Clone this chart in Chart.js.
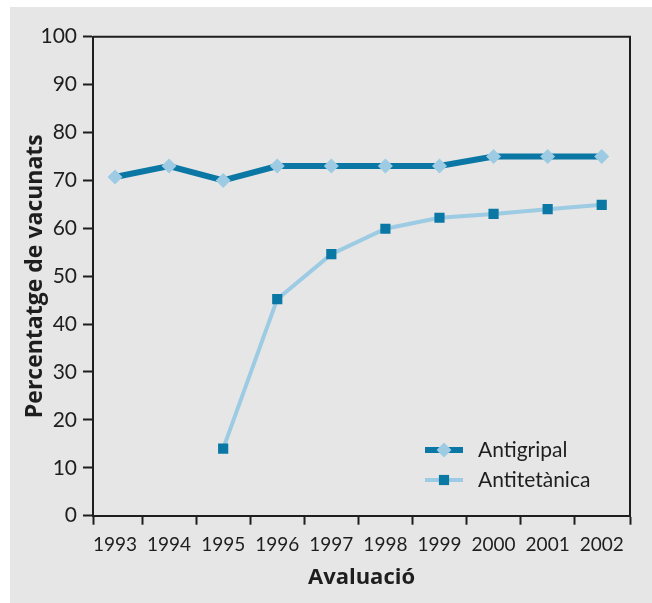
<!DOCTYPE html>
<html>
<head>
<meta charset="utf-8">
<script src="https://cdn.jsdelivr.net/npm/chart.js@4/dist/chart.umd.min.js"></script>
<style>
  html, body { margin: 0; padding: 0; background: #ffffff; }
  #wrap { position: absolute; left: 10px; top: 7px; width: 642px; height: 596px; background: #e6e6e6; }
  canvas { display: block; }
</style>
</head>
<body>
<div id="wrap"><canvas id="c" width="642" height="596"></canvas></div>
<script>
// ---- data ----
const years = ['1993', '1994', '1995', '1996', '1997', '1998', '1999', '2000', '2001', '2002'];
const antigripal = [70.7, 73, 70, 73, 73, 73, 73, 75, 75, 75];
const antitetanica = [null, null, 14, 45.2, 54.6, 59.9, 62.2, 63, 64, 64.9];
const seriesNames = ['Antigripal', 'Antitetànica'];
const yTicks = [0, 10, 20, 30, 40, 50, 60, 70, 80, 90, 100];
const axisTitles = { x: 'Avaluació', y: 'Percentatge de vacunats' };

const DARK = '#0a77a4';
const LIGHT = '#9ccbe3';
const INK = '#1e1e1e';
const FONT = 'Lato, "Open Sans", sans-serif';
const TITLE_FONT = '"Open Sans", Lato, sans-serif';

const toXY = arr => arr.map((v, i) => ({ x: i, y: v }));

const frame = {
  id: 'frame',
  beforeDatasetsDraw(chart) {
    const { ctx, chartArea: a } = chart;
    ctx.save();
    ctx.strokeStyle = INK;
    ctx.lineWidth = 2;
    ctx.beginPath();
    ctx.moveTo(a.left, a.top);
    ctx.lineTo(a.right, a.top);
    ctx.lineTo(a.right, a.bottom);
    ctx.stroke();
    ctx.restore();
  }
};

const innerLegend = {
  id: 'innerLegend',
  afterDraw(chart) {
    const { ctx } = chart;
    const x0 = 415, x1 = 453, tx = 468;
    const rows = [443, 473];
    ctx.save();
    chart.data.datasets.forEach((ds, i) => {
      const y = rows[i];
      ctx.strokeStyle = ds.borderColor;
      ctx.lineWidth = ds.borderWidth;
      ctx.beginPath();
      ctx.moveTo(x0, y);
      ctx.lineTo(x1, y);
      ctx.stroke();
      ctx.fillStyle = ds.pointBackgroundColor;
      ctx.beginPath();
      const r = ds.pointRadius;
      const cx = (x0 + x1) / 2;
      if (ds.pointStyle === 'rectRot') {
        ctx.moveTo(cx, y - r); ctx.lineTo(cx + r, y); ctx.lineTo(cx, y + r); ctx.lineTo(cx - r, y); ctx.closePath();
      } else {
        const h = r * Math.SQRT1_2;
        ctx.rect(cx - h, y - h, 2 * h, 2 * h);
      }
      ctx.fill();
      ctx.fillStyle = INK;
      ctx.font = '21px ' + FONT;
      ctx.textBaseline = 'middle';
      ctx.textAlign = 'left';
      ctx.fillText(ds.label, tx, y);
    });
    ctx.restore();
  }
};

const X_MIN = -0.407, X_MAX = 9.523;

new Chart(document.getElementById('c'), {
  type: 'line',
  data: {
    datasets: [
      {
        label: seriesNames[0],
        data: toXY(antigripal),
        borderColor: DARK,
        borderWidth: 6,
        pointStyle: 'rectRot',
        pointRadius: 7.5,
        pointBackgroundColor: LIGHT,
        pointBorderWidth: 0,
        pointBorderColor: LIGHT,
        tension: 0
      },
      {
        label: seriesNames[1],
        data: toXY(antitetanica),
        borderColor: LIGHT,
        borderWidth: 4,
        pointStyle: 'rect',
        pointRadius: 7.2,
        pointBackgroundColor: DARK,
        pointBorderWidth: 0,
        pointBorderColor: DARK,
        tension: 0
      }
    ]
  },
  options: {
    responsive: false,
    devicePixelRatio: 1,
    animation: false,
    layout: { padding: { top: 29.7, right: 22, left: 0, bottom: 0 } },
    plugins: { legend: { display: false }, tooltip: { enabled: false } },
    scales: {
      x: {
        type: 'linear',
        min: X_MIN,
        max: X_MAX,
        afterBuildTicks(scale) {
          const t = [{ value: X_MIN }];
          years.forEach((_, i) => {
            t.push({ value: i });
            if (i < years.length - 1) t.push({ value: i + 0.5 });
          });
          t.push({ value: X_MAX });
          scale.ticks = t;
        },
        afterFit(scale) { scale.height = 87.3; },
        ticks: {
          autoSkip: false,
          maxRotation: 0,
          padding: 9,
          color: INK,
          font: { family: FONT, size: 19 },
          callback: v => (Number.isInteger(v) && years[v] !== undefined) ? years[v] : ''
        },
        grid: {
          drawOnChartArea: false,
          drawTicks: true,
          tickLength: 9,
          tickWidth: 2,
          tickColor: ctx => (ctx.tick && Number.isInteger(ctx.tick.value)) ? 'rgba(0,0,0,0)' : INK
        },
        border: { display: true, color: INK, width: 2 },
        title: {
          display: true,
          text: axisTitles.x,
          color: INK,
          font: { family: TITLE_FONT, size: 22, weight: 'bold' },
          padding: { top: 0, bottom: 12 }
        }
      },
      y: {
        min: 0,
        max: 100,
        afterBuildTicks(scale) { scale.ticks = yTicks.map(v => ({ value: v })); },
        afterFit(scale) { scale.width = 83; },
        ticks: {
          stepSize: 10,
          padding: 6,
          color: INK,
          font: { family: FONT, size: 21 }
        },
        grid: {
          drawOnChartArea: false,
          drawTicks: true,
          tickLength: 10,
          tickWidth: 2,
          tickColor: INK
        },
        border: { display: true, color: INK, width: 2 },
        title: {
          display: true,
          text: axisTitles.y,
          color: INK,
          font: { family: TITLE_FONT, size: 23, weight: 'bold' },
          padding: { top: 12, bottom: 0 }
        }
      }
    }
  },
  plugins: [frame, innerLegend]
});
</script>
</body>
</html>
